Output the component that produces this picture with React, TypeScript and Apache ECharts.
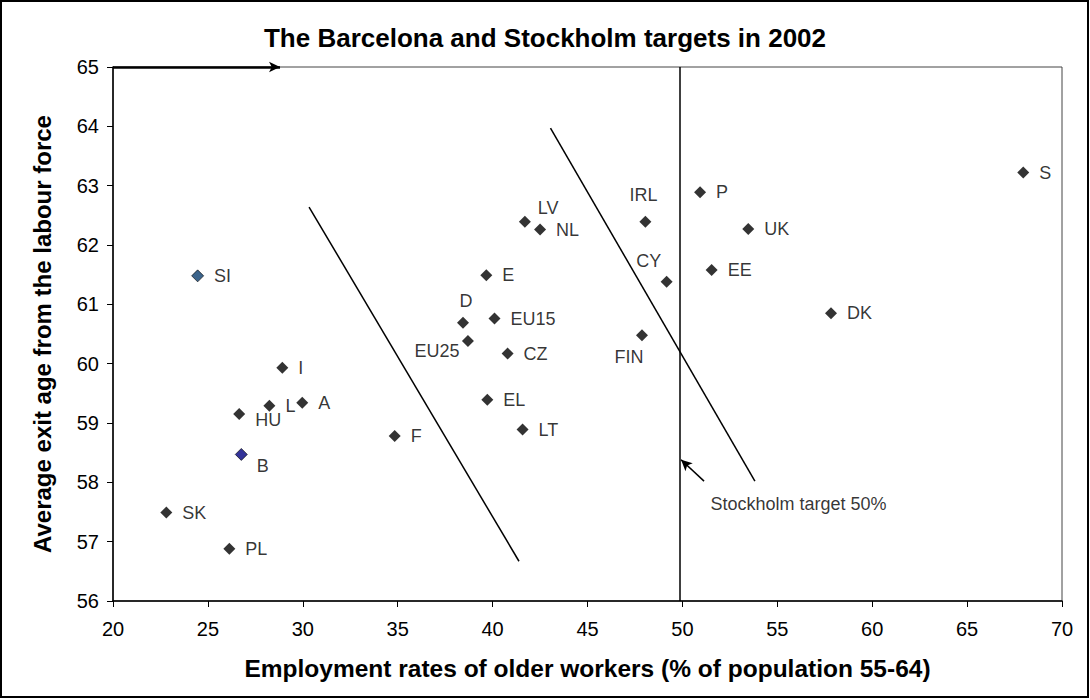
import React, { useEffect, useRef } from "react";
import * as echarts from "echarts";

const countries = ["S", "P", "IRL", "UK", "LV", "NL", "CY", "EE", "E", "SI", "DK", "D", "EU15", "EU25", "FIN", "CZ", "I", "EL", "A", "L", "HU", "LT", "F", "B", "SK", "PL"];
const employmentRates = [67.96, 50.93, 48.05, 53.47, 41.7, 42.5, 49.17, 51.54, 39.67, 24.46, 57.83, 38.44, 40.1, 38.7, 47.87, 40.79, 28.92, 39.72, 29.97, 28.24, 26.65, 41.58, 34.84, 26.76, 22.81, 26.13];
const exitAges = [63.22, 62.89, 62.39, 62.27, 62.39, 62.26, 61.38, 61.58, 61.49, 61.48, 60.85, 60.69, 60.76, 60.38, 60.48, 60.17, 59.93, 59.39, 59.34, 59.29, 59.15, 58.89, 58.78, 58.47, 57.49, 56.88];

const xTicks = { min: 20, max: 70, interval: 5 };
const yTicks = { min: 56, max: 65, interval: 1 };

// reference lines [x1, y1, x2, y2]
const barcelonaLine = [30.33, 62.64, 41.39, 56.67];
const stockholmDiagonal = [43.05, 63.97, 53.82, 58.02];
const stockholmTarget = 49.85;
const annotationArrow = [51.14, 58.02, 49.93, 58.38];
const topArrow = [20, 65, 28.8, 65];
const annotationText = "Stockholm target 50%";
const annotationPoint = [51.45, 57.63];

// styling
const font = "'Liberation Sans', Arial, sans-serif";
const specialColors: Record<string, string> = { SI: "#0b3d6e", B: "#000080" };
const labelPlacement: Record<string, any> = {
  HU: { position: "right", offset: [0, 6] },
  B: { position: "right", offset: [-1, 12] },
  LV: { position: "right", offset: [-3, -14] },
  D: { position: "inside", offset: [3, -22] },
  EU25: { position: "inside", offset: [-31, 10] },
  IRL: { position: "inside", offset: [-2, -27] },
  CY: { position: "inside", offset: [-18, -21] },
  FIN: { position: "inside", offset: [-13, 22] },
};

export default function App() {
  const ref = useRef<HTMLDivElement>(null);
  useEffect(() => {
    if (!ref.current) return;
    const chart = echarts.init(ref.current, null, { renderer: "svg" });
    const data = countries.map((name, i) => {
      const lp = labelPlacement[name];
      const item: any = {
        name,
        value: [employmentRates[i], exitAges[i]],
      };
      if (specialColors[name]) {
        item.itemStyle = { color: specialColors[name], borderColor: "#000", borderWidth: 0.8 };
      }
      if (lp) item.label = { ...lp };
      return item;
    });
    const seg = (l: number[], endSym = "none") => [
      { coord: [l[0], l[1]], symbol: "none" },
      { coord: [l[2], l[3]], symbol: endSym, symbolSize: [8, 11] },
    ];
    chart.setOption({
      animation: false,
      backgroundColor: "#fff",
      title: {
        text: "The Barcelona and Stockholm targets in 2002",
        left: "center",
        top: 20,
        textStyle: { fontFamily: font, fontSize: 26, fontWeight: "bold", color: "#000" },
      },
      graphic: [
        {
          type: "rect",
          shape: { x: 1, y: 1, width: 1087, height: 696 },
          style: { fill: "none", stroke: "#000", lineWidth: 2 },
          silent: true,
        },
      ],
      grid: {
        left: 113,
        right: 28,
        top: 67,
        bottom: 99,
        show: true,
        borderColor: "#444",
        borderWidth: 1,
      },
      xAxis: {
        type: "value",
        min: xTicks.min,
        max: xTicks.max,
        interval: xTicks.interval,
        name: "Employment rates of older workers (% of population 55-64)",
        nameLocation: "middle",
        nameGap: 55,
        nameTextStyle: { fontFamily: font, fontSize: 24.5, fontWeight: "bold", color: "#000" },
        axisLine: { lineStyle: { color: "#000", width: 1.5 } },
        axisTick: { show: true, length: 6, lineStyle: { color: "#000" } },
        axisLabel: { fontFamily: font, fontSize: 20, color: "#000", margin: 18 },
        splitLine: { show: false },
      },
      yAxis: {
        type: "value",
        min: yTicks.min,
        max: yTicks.max,
        interval: yTicks.interval,
        name: "Average exit age from the labour force",
        nameLocation: "middle",
        nameGap: 59,
        nameTextStyle: { fontFamily: font, fontSize: 24, fontWeight: "bold", color: "#000" },
        axisLine: { show: true, lineStyle: { color: "#000", width: 1.5 } },
        axisTick: { show: true, length: 6, lineStyle: { color: "#000" } },
        axisLabel: { fontFamily: font, fontSize: 20, color: "#000", margin: 14 },
        splitLine: { show: false },
      },
      series: [
        {
          type: "scatter",
          symbol: "diamond",
          symbolSize: 12,
          itemStyle: { color: "#000" },
          label: {
            show: true,
            position: "right",
            distance: 10,
            formatter: "{b}",
            fontFamily: font,
            fontSize: 18,
            color: "#000",
          },
          data,
          markLine: {
            silent: true,
            symbol: "none",
            label: { show: false },
            lineStyle: { color: "#000", width: 1.5, type: "solid" },
            data: [
              seg(barcelonaLine),
              seg(stockholmDiagonal),
              [
                { coord: [stockholmTarget, yTicks.min], symbol: "none" },
                { coord: [stockholmTarget, yTicks.max], symbol: "none" },
              ],
              seg(annotationArrow, "arrow"),
              [
                { coord: [topArrow[0], topArrow[1]], symbol: "none", lineStyle: { width: 2.5 } },
                { coord: [topArrow[2], topArrow[3]], symbol: "arrow", symbolSize: [8, 11] },
              ],
            ],
          },
        },
        {
          type: "scatter",
          symbol: "circle",
          symbolSize: 1,
          itemStyle: { color: "rgba(0,0,0,0)" },
          silent: true,
          label: {
            show: true,
            position: "right",
            distance: 0,
            formatter: annotationText,
            fontFamily: font,
            fontSize: 18,
            color: "#000",
          },
          data: [annotationPoint],
        },
      ],
    });
    return () => chart.dispose();
  }, []);
  return (
    <div
      ref={ref}
      style={{ position: "fixed", left: 0, top: 0, width: 1090, height: 700 }}
    />
  );
}
